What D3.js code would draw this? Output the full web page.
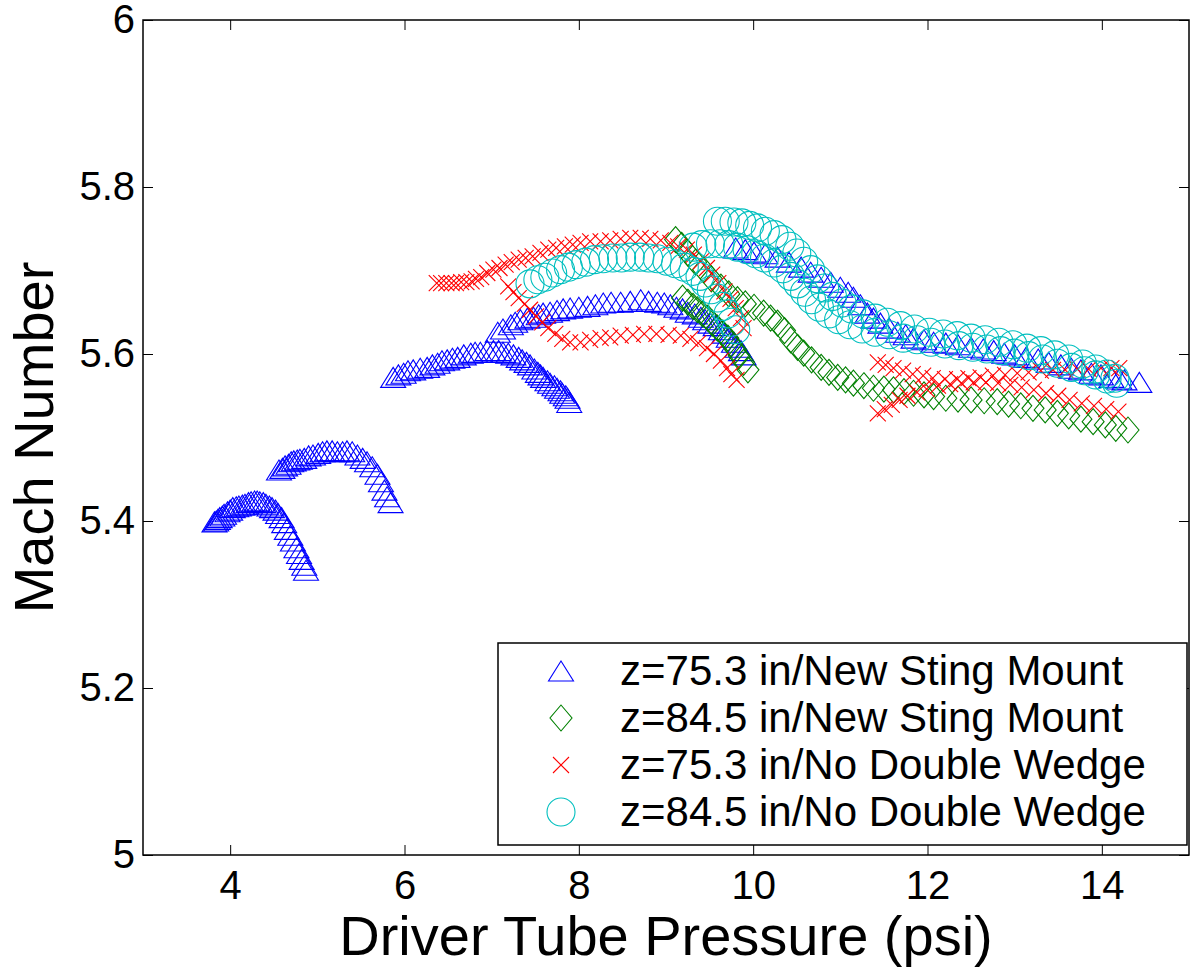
<!DOCTYPE html>
<html lang="en">
<meta charset="utf-8" />
<style>
  body { margin: 0; background: #fff; }
  text { font-family: "Liberation Sans", Arial, Helvetica, sans-serif; }
</style>
<svg width="1190" height="968"></svg>
<script src="https://d3js.org/d3.v7.min.js"></script>
<script>
// ---- data: [driver pressure psi, Mach number] ----
var blueRunA = [[3.82,5.399],[3.84,5.400],[3.86,5.402],[3.88,5.404],[3.91,5.406],[3.93,5.408],[3.97,5.411],[4.00,5.413],[4.03,5.416],[4.07,5.417],[4.10,5.418],[4.14,5.419],[4.17,5.420],[4.21,5.422],[4.24,5.423],[4.28,5.424],[4.31,5.424],[4.34,5.423],[4.38,5.422],[4.41,5.420],[4.45,5.418],[4.48,5.416],[4.52,5.413],[4.55,5.409],[4.59,5.404],[4.62,5.398],[4.65,5.390],[4.69,5.383],[4.72,5.376],[4.76,5.368],[4.79,5.361],[4.82,5.354],[4.85,5.347],[4.87,5.341]];
var blueRunB = [[4.56,5.461],[4.60,5.463],[4.63,5.466],[4.67,5.468],[4.70,5.471],[4.73,5.472],[4.77,5.473],[4.80,5.474],[4.85,5.475],[4.90,5.478],[4.95,5.479],[5.01,5.481],[5.06,5.483],[5.11,5.484],[5.17,5.484],[5.23,5.483],[5.29,5.483],[5.34,5.484],[5.40,5.483],[5.46,5.479],[5.52,5.475],[5.57,5.471],[5.63,5.465],[5.69,5.456],[5.73,5.447],[5.77,5.437],[5.80,5.429],[5.84,5.422]];
var blueRunC = [[5.87,5.572],[5.93,5.575],[5.99,5.577],[6.04,5.580],[6.10,5.581],[6.18,5.583],[6.26,5.584],[6.32,5.587],[6.38,5.589],[6.43,5.592],[6.49,5.593],[6.55,5.595],[6.61,5.596],[6.68,5.599],[6.76,5.601],[6.81,5.602],[6.87,5.602],[6.95,5.604],[7.02,5.604],[7.08,5.604],[7.13,5.602],[7.19,5.601],[7.25,5.599],[7.31,5.596],[7.35,5.593],[7.40,5.590],[7.44,5.587],[7.49,5.582],[7.53,5.578],[7.56,5.575],[7.59,5.572],[7.64,5.568],[7.67,5.565],[7.72,5.562],[7.75,5.559],[7.79,5.556],[7.81,5.553],[7.85,5.550],[7.87,5.547],[7.89,5.542]];
var blueRunD = [[7.07,5.626],[7.13,5.630],[7.22,5.635],[7.27,5.638],[7.33,5.641],[7.41,5.643],[7.48,5.644],[7.54,5.647],[7.59,5.649],[7.67,5.650],[7.75,5.652],[7.82,5.654],[7.90,5.655],[8.00,5.656],[8.10,5.657],[8.19,5.659],[8.28,5.661],[8.37,5.662],[8.48,5.662],[8.59,5.663],[8.71,5.665],[8.80,5.663],[8.90,5.662],[8.98,5.661],[9.05,5.659],[9.12,5.656],[9.19,5.654],[9.25,5.650],[9.33,5.648],[9.40,5.644],[9.45,5.641],[9.51,5.637],[9.57,5.634],[9.63,5.629],[9.67,5.625],[9.72,5.620],[9.78,5.614],[9.82,5.608],[9.86,5.604],[9.89,5.599]];
var blueRunE = [[9.80,5.727],[9.91,5.725],[10.01,5.722],[10.14,5.720],[10.28,5.716],[10.41,5.710],[10.55,5.704],[10.66,5.698],[10.78,5.692],[10.89,5.686],[11.00,5.680],[11.09,5.674],[11.15,5.668],[11.23,5.659],[11.31,5.649],[11.38,5.643],[11.46,5.637],[11.56,5.631],[11.66,5.626],[11.75,5.623],[11.84,5.619],[11.96,5.617],[12.07,5.614],[12.21,5.613],[12.35,5.611],[12.50,5.608],[12.64,5.606],[12.76,5.604],[12.88,5.601],[13.00,5.599],[13.13,5.596],[13.27,5.594],[13.39,5.590],[13.53,5.587],[13.65,5.583],[13.76,5.581],[13.88,5.577],[13.99,5.575],[14.11,5.572],[14.20,5.570],[14.26,5.569],[14.43,5.566]];

var greenRun1 = [[9.11,5.737],[9.18,5.730],[9.25,5.721],[9.34,5.710],[9.43,5.701],[9.52,5.690],[9.63,5.680],[9.72,5.672],[9.82,5.665],[9.91,5.660],[10.01,5.656],[10.12,5.649],[10.20,5.643],[10.28,5.637],[10.36,5.628],[10.43,5.617],[10.51,5.608],[10.58,5.601],[10.67,5.593],[10.78,5.584],[10.87,5.578],[10.97,5.572],[11.06,5.569],[11.15,5.565],[11.27,5.562],[11.38,5.559],[11.50,5.558],[11.61,5.557],[11.73,5.555],[11.84,5.553],[11.96,5.551],[12.07,5.549],[12.21,5.547],[12.35,5.546],[12.50,5.545],[12.65,5.544],[12.80,5.543],[12.93,5.540],[13.07,5.538],[13.21,5.535],[13.35,5.533],[13.49,5.529],[13.62,5.526],[13.76,5.522],[13.90,5.519],[14.04,5.515],[14.16,5.511],[14.30,5.509]];
var greenRun2 = [[9.19,5.667],[9.25,5.662],[9.31,5.657],[9.36,5.653],[9.42,5.648],[9.48,5.643],[9.53,5.637],[9.59,5.631],[9.65,5.625],[9.71,5.619],[9.75,5.612],[9.80,5.605],[9.84,5.598],[9.89,5.590],[9.94,5.581]];

var redRun1 = [[6.37,5.685],[6.42,5.685],[6.48,5.685],[6.54,5.685],[6.59,5.685],[6.65,5.686],[6.71,5.686],[6.77,5.687],[6.82,5.690],[6.88,5.692],[6.95,5.697],[7.02,5.701],[7.09,5.703],[7.16,5.707],[7.23,5.710],[7.31,5.713],[7.39,5.715],[7.47,5.717],[7.56,5.721],[7.65,5.725],[7.74,5.727],[7.84,5.729],[7.93,5.731],[8.02,5.733],[8.13,5.735],[8.25,5.735],[8.36,5.736],[8.48,5.738],[8.59,5.739],[8.71,5.739],[8.82,5.738],[8.94,5.736],[9.05,5.733],[9.14,5.729],[9.24,5.725],[9.32,5.719],[9.40,5.711],[9.47,5.703],[9.53,5.695],[9.60,5.685],[9.67,5.675],[9.74,5.666],[9.80,5.655],[9.86,5.643],[9.89,5.631]];
var redRun2 = [[7.19,5.681],[7.25,5.674],[7.31,5.667],[7.38,5.660],[7.44,5.653],[7.51,5.645],[7.58,5.638],[7.65,5.631],[7.73,5.624],[7.81,5.618],[7.90,5.614],[8.02,5.614],[8.13,5.617],[8.25,5.619],[8.36,5.620],[8.48,5.622],[8.62,5.623],[8.75,5.624],[8.89,5.624],[9.03,5.623],[9.17,5.622],[9.28,5.618],[9.37,5.613],[9.47,5.607],[9.55,5.600],[9.63,5.592],[9.70,5.583],[9.75,5.576],[9.81,5.569]];
var redRun3 = [[11.43,5.590],[11.52,5.587],[11.61,5.583],[11.72,5.580],[11.83,5.576],[11.95,5.574],[12.06,5.571],[12.20,5.570],[12.34,5.570],[12.47,5.571],[12.61,5.572],[12.75,5.574],[12.89,5.575],[13.03,5.577],[13.16,5.578],[13.30,5.580],[13.44,5.581],[13.58,5.581],[13.72,5.582],[13.85,5.582],[13.99,5.583],[14.11,5.583],[14.20,5.583]];
var redRun4 = [[11.43,5.529],[11.51,5.534],[11.59,5.539],[11.68,5.545],[11.77,5.550],[11.88,5.554],[11.99,5.558],[12.12,5.562],[12.26,5.564],[12.39,5.565],[12.53,5.566],[12.67,5.566],[12.81,5.565],[12.95,5.563],[13.08,5.560],[13.22,5.557],[13.36,5.553],[13.50,5.550],[13.63,5.545],[13.77,5.541],[13.91,5.538],[14.05,5.534],[14.19,5.531]];

var cyanRun1 = [[7.44,5.684],[7.53,5.689],[7.61,5.692],[7.70,5.697],[7.79,5.701],[7.88,5.704],[7.97,5.707],[8.08,5.710],[8.18,5.713],[8.28,5.714],[8.39,5.715],[8.49,5.715],[8.59,5.716],[8.70,5.716],[8.80,5.715],[8.90,5.714],[9.01,5.711],[9.11,5.708],[9.21,5.704],[9.31,5.699],[9.39,5.693],[9.45,5.685],[9.52,5.677],[9.59,5.667],[9.65,5.657],[9.71,5.648],[9.75,5.638],[9.80,5.629]];
var cyanRun2 = [[9.59,5.759],[9.68,5.759],[9.78,5.758],[9.87,5.757],[9.96,5.754],[10.05,5.751],[10.14,5.747],[10.24,5.743],[10.33,5.737],[10.42,5.729],[10.50,5.721],[10.58,5.711],[10.66,5.701],[10.74,5.690],[10.82,5.679],[10.91,5.669],[11.02,5.661],[11.13,5.654],[11.26,5.648],[11.40,5.643],[11.54,5.638],[11.69,5.634],[11.85,5.630],[12.02,5.626],[12.18,5.624],[12.34,5.622],[12.50,5.619],[12.66,5.617],[12.82,5.614],[12.98,5.611],[13.14,5.607],[13.30,5.604],[13.46,5.599],[13.62,5.594],[13.78,5.588],[13.93,5.582],[14.06,5.576],[14.15,5.571]];
var cyanRun3 = [[9.31,5.728],[9.41,5.731],[9.51,5.732],[9.62,5.732],[9.72,5.731],[9.82,5.728],[9.93,5.725],[10.03,5.720],[10.13,5.715],[10.24,5.709],[10.34,5.702],[10.43,5.693],[10.51,5.684],[10.59,5.674],[10.67,5.665],[10.76,5.656],[10.87,5.648],[10.98,5.641],[11.11,5.635],[11.25,5.630],[11.40,5.626],[11.56,5.623],[11.72,5.619],[11.88,5.617],[12.04,5.614],[12.20,5.612],[12.36,5.610],[12.52,5.608],[12.68,5.606],[12.84,5.604],[13.00,5.601],[13.16,5.598],[13.32,5.594],[13.49,5.589],[13.65,5.584],[13.80,5.580],[13.93,5.575],[14.06,5.570],[14.17,5.565]];

var seriesNames = ["z=75.3 in/New Sting Mount", "z=84.5 in/New Sting Mount",
                   "z=75.3 in/No Double Wedge", "z=84.5 in/No Double Wedge"];
var seriesRuns = [
  [blueRunA, blueRunB, blueRunC, blueRunD, blueRunE],
  [greenRun1, greenRun2],
  [redRun1, redRun2, redRun3, redRun4],
  [cyanRun1, cyanRun2, cyanRun3]
];
var xTicks = [4, 6, 8, 10, 12, 14];
var yTicks = [5, 5.2, 5.4, 5.6, 5.8, 6];

// ---- look ----
var colors = ["#0000ff", "#008000", "#ff0000", "#00bfbf"];
var markers = [
  "M0,-10L12.5,10L-12.5,10Z",             // triangle
  "M0,-13L11,0L0,13L-11,0Z",              // diamond
  "M-8,-8L8,8M-8,8L8,-8",                 // x
  d3.symbol(d3.symbolCircle, Math.PI * 14 * 14)()  // circle
];

var svg = d3.select("svg");
var axL = 143, axR = 1189, axT = 20, axB = 855;

var x = d3.scaleLinear().domain([3, 15]).range([axL, axR]);
var y = d3.scaleLinear().domain([5, 6]).range([axB, axT]);

var plot = svg.append("g");
seriesRuns.forEach(function(runs, i) {
  var pts = [].concat.apply([], runs);
  plot.append("g").selectAll("path")
    .data(pts)
    .enter().append("path")
      .attr("transform", function(d) { return "translate(" + x(d[0]) + "," + y(d[1]) + ")"; })
      .attr("d", markers[i])
      .attr("fill", "none")
      .attr("stroke", colors[i])
      .attr("stroke-width", 1.1);
});

// axes box with inward ticks
var fmtY = function(d) { return d === 5 || d === 6 ? d3.format("d")(d) : d3.format(".1f")(d); };
svg.append("g")
    .attr("transform", "translate(0," + axB + ")")
    .call(d3.axisBottom(x).tickValues(xTicks).tickSize(-10).tickPadding(16).tickFormat(d3.format("d")))
    .call(function(g) { g.select(".domain").remove(); });
svg.append("g")
    .attr("transform", "translate(" + axL + ",0)")
    .call(d3.axisLeft(y).tickValues(yTicks).tickSize(-10).tickPadding(8).tickFormat(fmtY))
    .call(function(g) { g.select(".domain").remove(); });
svg.append("g")
    .attr("transform", "translate(0," + axT + ")")
    .call(d3.axisTop(x).tickValues(xTicks).tickSize(-10).tickFormat(""))
    .call(function(g) { g.select(".domain").remove(); });
svg.append("g")
    .attr("transform", "translate(" + axR + ",0)")
    .call(d3.axisRight(y).tickValues(yTicks).tickSize(-10).tickFormat(""))
    .call(function(g) { g.select(".domain").remove(); });

svg.selectAll(".tick line").attr("stroke", "#000").attr("stroke-width", 1);
svg.selectAll(".tick text").attr("font-size", 40).attr("fill", "#000")
    .attr("font-family", "'Liberation Sans', Arial, sans-serif");

svg.append("rect")
    .attr("x", axL).attr("y", axT)
    .attr("width", axR - axL).attr("height", axB - axT)
    .attr("fill", "none").attr("stroke", "#000").attr("stroke-width", 1.5);

// axis titles
svg.append("text")
    .attr("x", (axL + axR) / 2).attr("y", 955)
    .attr("text-anchor", "middle").attr("font-size", 56)
    .text("Driver Tube Pressure (psi)");
svg.append("text")
    .attr("transform", "translate(53," + (axT + axB) / 2 + ") rotate(-90)")
    .attr("text-anchor", "middle").attr("font-size", 56)
    .text("Mach Number");

// legend
var lg = svg.append("g");
lg.append("rect")
    .attr("x", 498).attr("y", 643).attr("width", 689).attr("height", 202)
    .attr("fill", "#fff").attr("stroke", "#000").attr("stroke-width", 1.5);
var rows = lg.selectAll(".row")
  .data(seriesNames)
  .enter().append("g")
    .attr("transform", function(d, i) { return "translate(0," + (671 + i * 47) + ")"; });
rows.append("path")
    .attr("transform", "translate(561,0)")
    .attr("d", function(d, i) { return markers[i]; })
    .attr("fill", "none")
    .attr("stroke", function(d, i) { return colors[i]; })
    .attr("stroke-width", 1.1);
rows.append("text")
    .attr("x", 620).attr("y", 14)
    .attr("font-size", 42)
    .text(function(d) { return d; });
</script>
</html>
